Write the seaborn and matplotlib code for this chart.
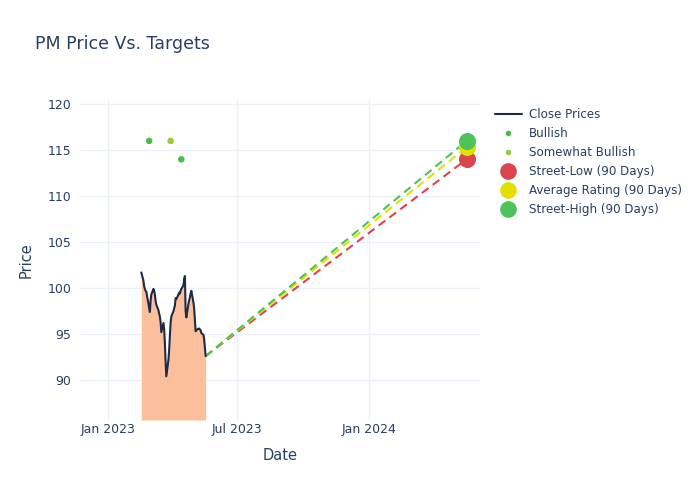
import pandas as pd
import seaborn as sns
import matplotlib
matplotlib.use('Agg')
import matplotlib.pyplot as plt
import matplotlib.dates as mdates
from matplotlib.lines import Line2D

# daily closes (business days, Feb 17 - May 18 2023)
close_start = '2023-02-17'
close_end = '2023-05-18'
close_prices = [
    101.7, 100.8, 100.2, 99.9, 99.7, 99.6, 98.3, 97.8, 97.4, 98.6,
    99.3, 99.9, 99.7, 99.3, 98.6, 98.2, 97.6, 97.2, 96.9, 96.3,
    95.2, 96.2, 95.5, 94.0, 92.0, 90.4, 92.2, 93.3, 94.8, 96.2,
    96.9, 97.5, 97.8, 98.1, 98.9, 98.8, 99.3, 99.5, 99.4, 99.7,
    99.9, 100.3, 101.0, 101.3, 97.5, 96.8, 98.3, 98.7, 99.0, 99.4,
    99.7, 98.4, 97.7, 96.5, 95.3, 95.4, 95.6, 95.6, 95.5, 95.4,
    95.1, 94.9, 94.4, 93.5, 92.6,
]

# analyst ratings
rating_dates = ['2023-02-28', '2023-03-30', '2023-04-14']
rating_prices = [116, 116, 114]
rating_labels = ['Bullish', 'Somewhat Bullish', 'Bullish']

# 90-day targets
target_date = '2024-05-17'
target_names = ['Street-Low (90 Days)', 'Average Rating (90 Days)', 'Street-High (90 Days)']
target_values = [114.0, 115.3, 116.0]
target_colors = ['#d9444f', '#e2e000', '#4cc258']

rating_colors = {'Bullish': '#4cbb4c', 'Somewhat Bullish': '#9acd32'}
text_col = '#2a3f5f'
grid_col = '#ebf0f8'

dates = pd.bdate_range(close_start, close_end)
close_df = pd.DataFrame({'Date': dates, 'Price': close_prices})
rating_df = pd.DataFrame({'Date': pd.to_datetime(rating_dates), 'Price': rating_prices,
                          'Rating': rating_labels})

sns.set_style('white')
plt.rcParams['font.family'] = ['DejaVu Sans']

fig = plt.figure(figsize=(7, 5), dpi=100)
ax = fig.add_axes([0.114, 0.16, 0.572, 0.64])

y_bottom = 85.65
ax.fill_between(close_df['Date'], close_df['Price'], y_bottom, color='#fbbf9b', lw=0, zorder=1)
sns.lineplot(data=close_df, x='Date', y='Price', color='#1f2a44', lw=1.5, ax=ax, zorder=3)

# dashed projections from the last close to each target
last_date = close_df['Date'].iloc[-1]
last_price = close_df['Price'].iloc[-1]
for name, val, col in zip(target_names, target_values, target_colors):
    proj = pd.DataFrame({'Date': [last_date, pd.Timestamp(target_date)], 'Price': [last_price, val]})
    sns.lineplot(data=proj, x='Date', y='Price', color=col, lw=1.5, ax=ax, zorder=2,
                 dashes=False, linestyle=(0, (4, 2.5)))

sns.scatterplot(data=rating_df, x='Date', y='Price', hue='Rating', palette=rating_colors,
                s=22, linewidth=0, ax=ax, legend=False, zorder=4)

for name, val, col in zip(target_names, target_values, target_colors):
    ax.scatter([pd.Timestamp(target_date)], [val], s=150, color=col, linewidth=0, zorder=5)

ax.set_xlim(pd.Timestamp('2022-11-23'), pd.Timestamp('2024-06-05'))
ax.set_ylim(y_bottom, 120.45)
ax.set_yticks([90, 95, 100, 105, 110, 115, 120])
ax.set_xticks(pd.to_datetime(['2023-01-01', '2023-07-01', '2024-01-01']))
ax.xaxis.set_major_formatter(mdates.DateFormatter('%b %Y'))
ax.grid(True, color=grid_col, lw=1)
ax.set_axisbelow(True)
for s in ax.spines.values():
    s.set_visible(False)
ax.tick_params(axis='y', length=0, labelsize=9, colors=text_col, pad=6)
ax.tick_params(axis='x', length=0, labelsize=9, colors=text_col, pad=2)
ax.set_xlabel('Date', fontsize=10.5, color=text_col, labelpad=9)
ax.set_ylabel('Price', fontsize=10.5, color=text_col, labelpad=10)

fig.text(0.05, 0.912, 'PM Price Vs. Targets', fontsize=12.5, color=text_col, va='center')

handles = [Line2D([], [], color='#1f2a44', lw=1.5),
           Line2D([], [], marker='o', ls='', color=rating_colors['Bullish'], markersize=4, mec='none'),
           Line2D([], [], marker='o', ls='', color=rating_colors['Somewhat Bullish'], markersize=4, mec='none')]
handles += [Line2D([], [], marker='o', ls='', color=c, markersize=12, mec='none') for c in target_colors]
labels = ['Close Prices', 'Bullish', 'Somewhat Bullish'] + target_names
leg = fig.legend(handles, labels, loc='upper left', bbox_to_anchor=(0.699, 0.795), frameon=False,
                 fontsize=8.6, handlelength=2.2, labelspacing=0.5, handletextpad=0.62, borderpad=0)
for t in leg.get_texts():
    t.set_color(text_col)

fig.savefig('out.png', dpi=100)
